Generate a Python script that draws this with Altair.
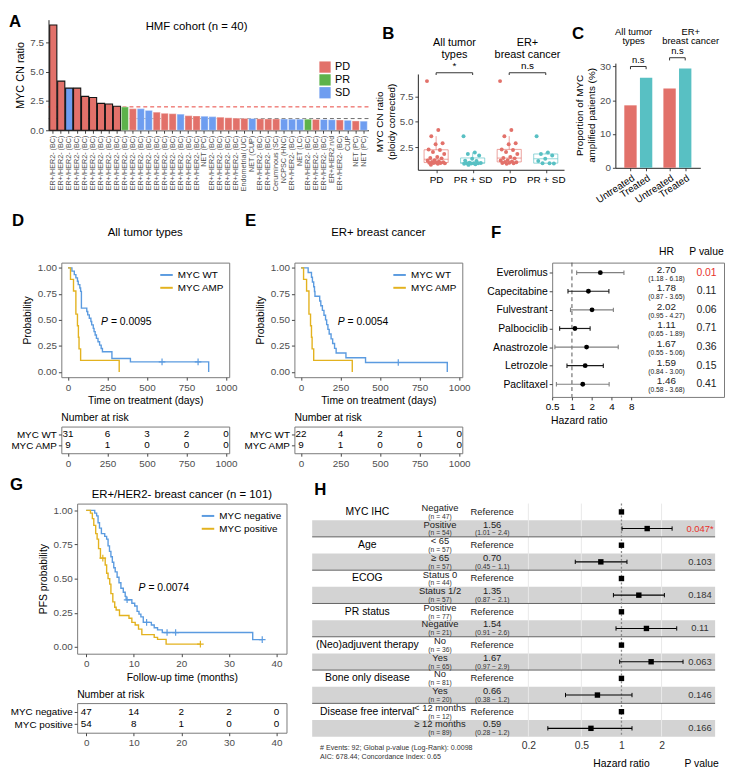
import altair as alt
import pandas as pd

FONT = "Liberation Sans"

# ======================= DATA =======================
A_LABELS = [
    "ER+/HER2- (BC)", "ER+/HER2- (BC)", "ER+/HER2- (BC)", "ER+/HER2- (BC)", "ER+/HER2- (BC)",
    "ER+/HER2- (BC)", "ER+/HER2- (BC)", "ER+/HER2- (BC)", "ER+/HER2- (BC)", "ER+/HER2- (BC)",
    "ER+/HER2- (BC)", "ER+/HER2- (BC)", "ER+/HER2- (BC)", "ER+/HER2- (BC)", "ER+/HER2- (BC)",
    "ER+/HER2- (BC)", "ER+/HER2- (BC)", "ER+/HER2- (BC)", "ER+/HER2- (BC)", "NET (PC)",
    "ER+/HER2- (BC)", "ER+/HER2- (BC)", "ER+/HER2- (BC)", "ER+/HER2- (BC)", "Endometrial (UC)",
    "NET (CUP)", "ER+/HER2- (BC)", "ER+/HER2- (BC)", "Ceruminous (SC)", "NCPSC (HNC)",
    "ER+/HER2- (BC)", "NET (LC)", "ER+/HER2- (BC)", "ER+/HER2- (BC)", "ER+/HER2- (BC)",
    "ER+/HER2 n/d", "ER+/HER2- (BC)", "CUP", "NET (PC)", "NET (PC)",
]
A_CN = [9.0, 4.2, 3.6, 3.6, 2.9, 2.8, 2.3, 2.25, 2.05, 2.0,
        1.85, 1.85, 1.7, 1.55, 1.45, 1.42, 1.38, 1.25, 1.22, 1.2,
        1.17, 1.12, 1.07, 1.04, 1.02, 1.0, 0.98, 0.97, 0.97, 0.96,
        0.95, 0.95, 0.95, 0.93, 0.92, 0.9, 0.88, 0.85, 0.8, 0.78]
A_RESP = ["PD", "PD", "SD", "PD", "PD", "PD", "PD", "PD", "PD", "PR",
          "PD", "SD", "SD", "PD", "PD", "PD", "SD", "PD", "PD", "SD",
          "SD", "PD", "PD", "PD", "PD", "SD", "PD", "PD", "PD", "SD",
          "SD", "SD", "PR", "PD", "SD", "SD", "PD", "SD", "PD", "SD"]
A_AMP = [1, 1, 1, 1, 1, 1, 1, 1, 1, 0,
         0, 0, 0, 0, 0, 0, 0, 0, 0, 0,
         0, 0, 0, 0, 0, 0, 0, 0, 0, 0,
         0, 0, 0, 0, 0, 0, 0, 0, 0, 0]
A_THRESH_AMP = 2.0
A_THRESH_BASE = 1.0

C_TREAT = ["Untreated", "Treated", "Untreated", "Treated"]
C_POS = [1, 2, 3.5, 4.5]
C_PCT = [18.5, 26.7, 23.5, 29.4]

D_WT_T = [0, 25, 40, 50, 60, 65, 75, 80, 85, 119, 125, 135, 145, 150, 160, 165, 172, 180, 190, 200, 210, 218, 278, 395, 890]
D_WT_S = [1.0, 0.968, 0.935, 0.903, 0.871, 0.839, 0.806, 0.774, 0.613, 0.581, 0.548, 0.516, 0.484, 0.452, 0.419,
          0.387, 0.355, 0.323, 0.290, 0.258, 0.226, 0.194, 0.129, 0.097, 0.0]
D_WT_CENS_T = [595, 823]
D_WT_CENS_S = [0.097, 0.097]
AMP_T = [0, 16, 35, 50, 60, 66, 70, 80, 324]
AMP_S = [1.0, 0.889, 0.778, 0.556, 0.444, 0.333, 0.222, 0.111, 0.0]
E_WT_T = [0, 45, 66, 72, 80, 85, 88, 118, 125, 135, 145, 155, 162, 170, 178, 190, 200, 212, 222, 284, 408, 925]
E_WT_S = [1.0, 0.955, 0.909, 0.864, 0.818, 0.773, 0.727, 0.682, 0.636, 0.591, 0.545, 0.5, 0.455, 0.409, 0.364,
          0.318, 0.273, 0.227, 0.182, 0.136, 0.091, 0.0]
E_WT_CENS_T = [615]
E_WT_CENS_S = [0.091]
DAYS_TICKS = [0, 250, 500, 750, 1000]
D_RISK_WT = [31, 6, 3, 2, 0]
D_RISK_AMP = [9, 1, 0, 0, 0]
E_RISK_WT = [22, 4, 2, 1, 0]
E_RISK_AMP = [9, 1, 0, 0, 0]

F_DRUGS = ["Everolimus", "Capecitabine", "Fulvestrant", "Palbociclib", "Anastrozole", "Letrozole", "Paclitaxel"]
F_HR = [2.70, 1.78, 2.02, 1.11, 1.67, 1.59, 1.46]
F_LO = [1.18, 0.87, 0.95, 0.65, 0.55, 0.84, 0.58]
F_HI = [6.18, 3.65, 4.27, 1.89, 5.06, 3.00, 3.68]
F_P = [0.01, 0.11, 0.06, 0.71, 0.36, 0.15, 0.41]

G_NEG_T = [0, 1.8, 2.2, 2.5, 2.8, 3.2, 3.9, 4.3, 4.6, 4.9, 5.2, 5.5, 5.8, 6.1, 6.5, 6.9, 7.3, 7.8, 8.2, 8.4,
           9.6, 10.2, 10.7, 11.1, 11.5, 12.0, 13.7, 14.3, 15.0, 16.0, 35.0, 37.0]
G_NEG_S = [1.0, 0.98, 0.96, 0.91, 0.87, 0.83, 0.81, 0.79, 0.74, 0.70, 0.66, 0.62, 0.58, 0.55, 0.51, 0.47, 0.43,
           0.40, 0.37, 0.345, 0.32, 0.30, 0.26, 0.24, 0.22, 0.18, 0.16, 0.14, 0.125, 0.105, 0.053, 0.053]
G_NEG_CENS_T = [8.6, 12.7, 17.0, 18.8, 37.0]
G_NEG_CENS_S = [0.345, 0.18, 0.105, 0.105, 0.053]
G_POS_T = [0, 0.9, 1.3, 1.6, 2.0, 2.3, 2.6, 3.0, 4.0, 4.3, 4.6, 4.95, 5.2, 5.6, 6.0, 6.3, 7.0, 9.0, 9.6, 10.3,
           11.0, 11.7, 14.3, 15.0, 16.8, 24.0]
G_POS_S = [1.0, 0.98, 0.94, 0.89, 0.83, 0.79, 0.72, 0.65, 0.60, 0.54, 0.50, 0.46, 0.39, 0.33, 0.29, 0.27, 0.23,
           0.21, 0.18, 0.16, 0.13, 0.09, 0.07, 0.055, 0.02, 0.02]
G_POS_CENS_T = [3.5, 24.0]
G_POS_CENS_S = [0.65, 0.02]
MONTH_TICKS = [0, 10, 20, 30, 40]
G_RISK_NEG = [47, 14, 2, 2, 0]
G_RISK_POS = [54, 8, 1, 0, 0]

H_VARS = ["MYC IHC", "Age", "ECOG", "PR status", "(Neo)adjuvent therapy", "Bone only disease", "Disease free interval"]
H_LEVELS = ["Negative", "Positive", "< 65", "≥ 65", "Status 0", "Status 1/2", "Positive", "Negative",
            "No", "Yes", "No", "Yes", "< 12 months", "≥ 12 months"]
H_N = [47, 54, 57, 57, 44, 57, 77, 21, 36, 65, 81, 20, 12, 89]
H_HR = [1.0, 1.56, 1.0, 0.70, 1.0, 1.35, 1.0, 1.54, 1.0, 1.67, 1.0, 0.66, 1.0, 0.59]
H_LO = [None, 1.01, None, 0.45, None, 0.87, None, 0.91, None, 0.97, None, 0.38, None, 0.28]
H_HI = [None, 2.4, None, 1.1, None, 2.1, None, 2.6, None, 2.9, None, 1.2, None, 1.2]
H_P = [None, 0.047, None, 0.103, None, 0.184, None, 0.11, None, 0.063, None, 0.146, None, 0.166]
H_FOOT = ["# Events: 92; Global p-value (Log-Rank): 0.0098", "AIC: 678.44; Concordance Index: 0.65"]

# ======================= STYLE =======================
C_PD, C_PR, C_SD = "#E2716A", "#5DB24B", "#6E9DF0"
C_SAL, C_TEAL = "#E2716A", "#58C0C3"
KM_BLUE, KM_YEL = "#5B9BE0", "#E3B21F"
BOX = alt.ViewBackground(stroke="#7a7a7a", strokeWidth=1)
LBL = "#4d4d4d"


def letter(ch, x, y):
    return alt.Chart(pd.DataFrame({"t": [ch]})).mark_text(
        font=FONT, fontSize=17, fontWeight="bold", align="left", baseline="top", color="black"
    ).encode(text="t:N", x=alt.value(x), y=alt.value(y))


def vtitle(lines, x0, ymid, size=10, step=12):
    return [alt.Chart(pd.DataFrame({"t": [ln]})).mark_text(
        font=FONT, fontSize=size, angle=270, color="black", baseline="middle", align="center"
    ).encode(text="t:N", x=alt.value(x0 + i * step), y=alt.value(ymid)) for i, ln in enumerate(lines)]


def spacer():
    return alt.Chart(pd.DataFrame({"t": [""]})).mark_text().encode(text="t:N").properties(width=1, height=1)


# ======================= PANEL A =======================
WA, HA = 324, 112
dfA = pd.DataFrame({"idx": list(range(len(A_CN))), "cn": A_CN, "resp": A_RESP, "amp": A_AMP})
lblA = "[" + ",".join("'" + s + "'" for s in A_LABELS) + "][datum.value]"
ax_xA = alt.Axis(labelExpr=lblA, labelAngle=-90, labelFontSize=7.3, labelColor=LBL, tickSize=3,
                 labelPadding=2, labelOverlap=False, domainColor="#222")
ax_yA = alt.Axis(values=[0, 2.5, 5, 7.5], format=".1f", labelFontSize=10, titleFontSize=11, tickSize=3,
                 titlePadding=4, domainColor="#222", labelColor=LBL)
scx_A = alt.Scale(paddingInner=0.1, paddingOuter=0.15)
scy_A = alt.Scale(domain=[0, 9.45], nice=False, zero=False)
XA = lambda f: alt.X(f, title=None, scale=scx_A, axis=ax_xA)
YA = lambda f: alt.Y(f, title="MYC CN ratio", scale=scy_A, axis=ax_yA)

thr_hi = alt.Chart(pd.DataFrame({"cn": [A_THRESH_AMP]})).mark_rule(
    strokeDash=[4, 3], color="#E8433B", strokeWidth=1).encode(y=YA("cn:Q"))
thr_lo = alt.Chart(pd.DataFrame({"cn": [A_THRESH_BASE]})).mark_rule(
    strokeDash=[4, 3], color="#6b6b6b", strokeWidth=1).encode(y=YA("cn:Q"))
barsA = alt.Chart(dfA).transform_calculate(
    sc="datum.amp == 1 ? '#151515' : '#ffffff'",
    so="datum.amp == 1 ? 1 : 0.35",
).mark_bar(strokeWidth=1.1).encode(
    x=XA("idx:O"), y=YA("cn:Q"),
    color=alt.Color("resp:N", scale=alt.Scale(domain=["PD", "PR", "SD"], range=[C_PD, C_PR, C_SD]),
                    legend=alt.Legend(title=None, orient="none", legendX=WA - 50, legendY=42,
                                      symbolType="square", symbolSize=130, labelFontSize=11,
                                      rowPadding=1, symbolStrokeWidth=0, labelColor="black")),
    stroke=alt.Stroke("sc:N", scale=None),
    strokeOpacity=alt.StrokeOpacity("so:Q", scale=None),
)
titleA = alt.Chart(pd.DataFrame({"idx": [18], "cn": [8.85], "t": ["HMF cohort (n = 40)"]})).mark_text(
    font=FONT, fontSize=11.5, color="black").encode(x=XA("idx:O"), y=YA("cn:Q"), text="t:N")
panelA = alt.layer(thr_hi, thr_lo, barsA, titleA, letter("A", -40, -6)).properties(width=WA, height=HA)

# ======================= PANEL B =======================
WB, HB = 148, 97
B_ORDER = [("All tumor types", "PD"), ("All tumor types", "PR + SD"),
           ("ER+ breast cancer", "PD"), ("ER+ breast cancer", "PR + SD")]
recs, counters = [], {}
for lab, v, r in zip(A_LABELS, A_CN, A_RESP):
    cls = "PD" if r == "PD" else "PR + SD"
    groups = ["All tumor types"] + (["ER+ breast cancer"] if lab.startswith("ER+/HER2-") else [])
    for g in groups:
        k = counters.get((g, cls), 0)
        counters[(g, cls)] = k + 1
        pos = B_ORDER.index((g, cls)) + 1
        jit = (((k * 0.618034) % 1.0) - 0.5) * 0.5
        recs.append({"grp": g, "cls": cls, "v": v, "pos": pos, "px": pos + jit,
                     "col": C_SAL if cls == "PD" else C_TEAL})
dfB = pd.DataFrame(recs)
scx_B = alt.Scale(domain=[0.5, 4.5], nice=False, zero=False)
scy_B = alt.Scale(domain=[0.3, 9.7], nice=False, zero=False)
ax_xB = alt.Axis(values=[1, 2, 3, 4], labelExpr="['','PD','PR + SD','PD','PR + SD'][datum.value]",
                 labelFontSize=10, tickSize=3, labelColor="black", domainColor="#222", labelFlush=False)
ax_yB = alt.Axis(values=[2.5, 5, 7.5], format=".1f", labelFontSize=10, tickSize=3,
                 domainColor="#222", labelColor=LBL)
XB = lambda f: alt.X(f, title=None, scale=scx_B, axis=ax_xB)
YB = lambda f: alt.Y(f, title=None, scale=scy_B, axis=ax_yB)

boxB = alt.Chart(dfB).transform_aggregate(
    q1="q1(v)", med="median(v)", q3="q3(v)", groupby=["pos", "col"]
).transform_calculate(x1="datum.pos - 0.33", x2="datum.pos + 0.33")
rectB = boxB.mark_rect(filled=False, strokeWidth=1, strokeOpacity=0.65).encode(
    x=XB("x1:Q"), x2="x2:Q", y=YB("q1:Q"), y2="q3:Q", stroke=alt.Stroke("col:N", scale=None))
medB = boxB.mark_rule(strokeWidth=1, strokeOpacity=0.65).encode(
    x=XB("x1:Q"), x2="x2:Q", y=YB("med:Q"), stroke=alt.Stroke("col:N", scale=None))
whB = alt.Chart(dfB).transform_joinaggregate(
    q1="q1(v)", q3="q3(v)", groupby=["pos"]
).transform_calculate(
    lo="datum.q1 - 1.5 * (datum.q3 - datum.q1)", hi="datum.q3 + 1.5 * (datum.q3 - datum.q1)"
).transform_filter("datum.v >= datum.lo && datum.v <= datum.hi").transform_aggregate(
    wlo="min(v)", whi="max(v)", q1="min(q1)", q3="min(q3)", groupby=["pos", "col"])
upB = whB.mark_rule(strokeWidth=1, strokeOpacity=0.65).encode(
    x=XB("pos:Q"), y=YB("q3:Q"), y2="whi:Q", stroke=alt.Stroke("col:N", scale=None))
loB = whB.mark_rule(strokeWidth=1, strokeOpacity=0.65).encode(
    x=XB("pos:Q"), y=YB("wlo:Q"), y2="q1:Q", stroke=alt.Stroke("col:N", scale=None))
ptsB = alt.Chart(dfB).mark_circle(size=16, opacity=1).encode(
    x=XB("px:Q"), y=YB("v:Q"), color=alt.Color("col:N", scale=None))
brB = pd.DataFrame({"x1": [1, 3], "x2": [2, 4], "y": [9.82, 9.82], "lbl": ["*", "n.s"]})
brB_line = alt.Chart(brB).mark_rule(color="#333", strokeWidth=1).encode(x=XB("x1:Q"), x2="x2:Q", y=YB("y:Q"))
brB_legs = alt.Chart(brB).transform_fold(["x1", "x2"], as_=["end", "xe"]).transform_calculate(
    y2="datum.y - 0.22").mark_rule(color="#333", strokeWidth=1).encode(x=XB("xe:Q"), y=YB("y:Q"), y2="y2:Q")
brB_txt = alt.Chart(brB).transform_calculate(xm="(datum.x1 + datum.x2) / 2").mark_text(
    font=FONT, fontSize=10, baseline="bottom", dy=-2, color="black").encode(x=XB("xm:Q"), y=YB("y:Q"), text="lbl:N")
hdB = pd.DataFrame({"xm": [1.5, 1.5, 3.5, 3.5], "y": [12.75, 11.55, 12.75, 11.55],
                    "t": ["All tumor", "types", "ER+", "breast cancer"]})
hdB_txt = alt.Chart(hdB).mark_text(font=FONT, fontSize=11, color="black").encode(
    x=XB("xm:Q"), y=YB("y:Q"), text="t:N")
panelB = alt.layer(rectB, medB, upB, loB, ptsB, brB_line, brB_legs, brB_txt, hdB_txt,
                   *vtitle(["MYC CN ratio", "(ploidy corrected)"], -38, HB / 2),
                   letter("B", -36, -48)).properties(width=WB, height=HB)

# ======================= PANEL C =======================
WC, HC = 86, 106
dfC = pd.DataFrame({"pos": C_POS, "pct": C_PCT, "treat": C_TREAT})
dfC["col"] = [C_SAL if t == "Untreated" else C_TEAL for t in C_TREAT]
lblC = " : ".join("datum.value == %s ? '%s'" % (p, t) for p, t in zip(C_POS, C_TREAT)) + " : ''"
scx_C = alt.Scale(domain=[0.35, 5.15], nice=False, zero=False)
scy_C = alt.Scale(domain=[0, 31], nice=False, zero=False)
ax_xC = alt.Axis(values=C_POS, labelExpr=lblC, labelAngle=-33, labelFontSize=10, tickSize=3,
                 labelColor="black", domainColor="#222", labelFlush=False, labelOverlap=False)
ax_yC = alt.Axis(values=[0, 10, 20, 30], format="d", labelFontSize=10, tickSize=3,
                 domainColor="#222", labelColor=LBL)
XC = lambda f: alt.X(f, title=None, scale=scx_C, axis=ax_xC)
YC = lambda f: alt.Y(f, title=None, scale=scy_C, axis=ax_yC)
barsC = alt.Chart(dfC).mark_bar(size=12.5).encode(x=XC("pos:Q"), y=YC("pct:Q"), color=alt.Color("col:N", scale=None))
brC = pd.DataFrame({"x1": [1, 3.5], "x2": [2, 4.5], "y": [30.0, 32.6], "lbl": ["n.s", "n.s"]})
brC_line = alt.Chart(brC).mark_rule(color="#333", strokeWidth=1).encode(x=XC("x1:Q"), x2="x2:Q", y=YC("y:Q"))
brC_legs = alt.Chart(brC).transform_fold(["x1", "x2"], as_=["end", "xe"]).transform_calculate(
    y2="datum.y - 0.8").mark_rule(color="#333", strokeWidth=1).encode(x=XC("xe:Q"), y=YC("y:Q"), y2="y2:Q")
brC_txt = alt.Chart(brC).transform_calculate(xm="(datum.x1 + datum.x2) / 2").mark_text(
    font=FONT, fontSize=9.5, baseline="bottom", dy=-2, color="black").encode(x=XC("xm:Q"), y=YC("y:Q"), text="lbl:N")
hdC = pd.DataFrame({"xm": [1.2, 1.2, 4.85, 4.85], "y": [40.3, 37.5, 40.3, 37.5],
                    "t": ["All tumor", "types", "ER+", "breast cancer"]})
hdC_txt = alt.Chart(hdC).mark_text(font=FONT, fontSize=9.5, color="black").encode(
    x=XC("xm:Q"), y=YC("y:Q"), text="t:N")
panelC = alt.layer(barsC, brC_line, brC_legs, brC_txt, hdC_txt,
                   *vtitle(["Proportion of MYC", "amplified patients (%)"], -36, HC / 2),
                   letter("C", -44, -37)).properties(width=WC, height=HC)


# ======================= KM helpers =======================
def km_chart(title, title_y, series, censors, pv, pv_at, xdom, xvals, xtitle, ytitle, W, H, let, let_xy):
    names = [s["name"] for s in series]
    cols = [s["color"] for s in series]
    df = pd.DataFrame([{"t": t, "s": v, "grp": s["name"]} for s in series for t, v in zip(s["t"], s["s"])])
    xs = alt.Scale(domain=xdom, nice=False, zero=False)
    ys = alt.Scale(domain=[-0.05, 1.05], nice=False, zero=False)
    xax = alt.Axis(values=xvals, format="d", domain=False, tickSize=3, labelFontSize=10, titleFontSize=10.5,
                   labelFlush=False, titlePadding=4, labelColor=LBL)
    yax = alt.Axis(values=[0, 0.25, 0.5, 0.75, 1], format=".2f", domain=False, tickSize=3, labelFontSize=10,
                   titleFontSize=10.5, titlePadding=5, labelColor=LBL)
    X = lambda f: alt.X(f, title=xtitle, scale=xs, axis=xax)
    Y = lambda f: alt.Y(f, title=ytitle, scale=ys, axis=yax)
    layers = [alt.Chart(df).mark_line(interpolate="step-after", strokeWidth=1.4).encode(
        x=X("t:Q"), y=Y("s:Q"),
        color=alt.Color("grp:N", scale=alt.Scale(domain=names, range=cols), sort=names,
                        legend=alt.Legend(title=None, orient="top-right", offset=5, symbolType="stroke",
                                          symbolStrokeWidth=2, symbolSize=160, labelFontSize=10,
                                          rowPadding=0, padding=0, labelColor="black")))]
    for c in censors:
        dfc = pd.DataFrame({"t": c["t"], "s": c["s"]})
        layers.append(alt.Chart(dfc).mark_point(shape="M-1,0H1M0,-1V1", size=45, strokeWidth=1.2,
                                                filled=False, color=c["color"], opacity=1).encode(
            x=X("t:Q"), y=Y("s:Q")))
    dfp = pd.DataFrame({"t": [pv_at[0]], "s": [pv_at[1]]})
    layers.append(alt.Chart(dfp).mark_text(text="P", fontStyle="italic", fontSize=10.5, align="left",
                                           font=FONT, color="black").encode(x=X("t:Q"), y=Y("s:Q")))
    layers.append(alt.Chart(dfp).mark_text(text="= " + pv, fontSize=10.5, align="left", dx=10,
                                           font=FONT, color="black").encode(x=X("t:Q"), y=Y("s:Q")))
    dft = pd.DataFrame({"t": [(xdom[0] + xdom[1]) / 2], "s": [title_y], "txt": [title]})
    layers.append(alt.Chart(dft).mark_text(fontSize=11.5, font=FONT, color="black").encode(
        x=X("t:Q"), y=Y("s:Q"), text="txt:N"))
    layers.append(letter(let, *let_xy))
    return alt.layer(*layers).properties(width=W, height=H, view=BOX)


def risk_chart(names, xvals, counts, xdom, W, H):
    df = pd.DataFrame([{"name": n, "x": x, "n": c} for n, cs in zip(names, counts) for x, c in zip(xvals, cs)])
    return alt.Chart(df).mark_text(font=FONT, fontSize=10, color="black").encode(
        x=alt.X("x:Q", title=None, scale=alt.Scale(domain=xdom, nice=False, zero=False),
                axis=alt.Axis(values=xvals, format="d", domain=False, tickSize=3, labelFontSize=10,
                              labelFlush=False, labelColor=LBL)),
        y=alt.Y("name:N", title=None, sort=names, scale=alt.Scale(padding=0.7),
                axis=alt.Axis(domain=False, tickSize=3, labelFontSize=10, labelColor="black", labelPadding=2)),
        text="n:Q",
    ).properties(width=W, height=H, view=BOX,
                 title=alt.TitleParams("Number at risk", anchor="start", frame="group", fontSize=10.5,
                                       fontWeight="normal", offset=3, font=FONT, color="black"))


# ======================= PANELS D, E =======================
WD, HD = 170, 116
DDOM = [-42, 1020]
kmD = km_chart("All tumor types", 1.33,
               [{"name": "MYC WT", "t": D_WT_T, "s": D_WT_S, "color": KM_BLUE},
                {"name": "MYC AMP", "t": AMP_T, "s": AMP_S, "color": KM_YEL}],
               [{"t": D_WT_CENS_T, "s": D_WT_CENS_S, "color": KM_BLUE}],
               "0.0095", (209, 0.48), DDOM, DAYS_TICKS, "Time on treatment (days)", "Probability",
               WD, HD, "D", (-50, -50))
riskD = risk_chart(["MYC WT", "MYC AMP"], DAYS_TICKS, [D_RISK_WT, D_RISK_AMP], DDOM, WD, 27)
kmE = km_chart("ER+ breast cancer", 1.33,
               [{"name": "MYC WT", "t": E_WT_T, "s": E_WT_S, "color": KM_BLUE},
                {"name": "MYC AMP", "t": AMP_T, "s": AMP_S, "color": KM_YEL}],
               [{"t": E_WT_CENS_T, "s": E_WT_CENS_S, "color": KM_BLUE}],
               "0.0054", (232, 0.48), DDOM, DAYS_TICKS, "Time on treatment (days)", "Probability",
               WD, HD, "E", (-50, -50))
riskE = risk_chart(["MYC WT", "MYC AMP"], DAYS_TICKS, [E_RISK_WT, E_RISK_AMP], DDOM, WD, 27)

# ======================= PANEL F =======================
WF, HF = 174, 136
F_COLX = {"hr": 27.4, "p": 111.6}
dfF = pd.DataFrame({"row": list(range(1, len(F_DRUGS) + 1)), "drug": F_DRUGS, "hr": F_HR,
                    "lo": F_LO, "hi": F_HI, "p": F_P})
fx_scale = alt.Scale(type="log", base=2, domain=[0.5, 206], nice=False)
fy_scale = alt.Scale(domain=[0.46, 7.68], reverse=True, nice=False, zero=False)
drug_expr = "[''," + ",".join("'%s'" % d for d in F_DRUGS) + "][datum.value]"
FAX = alt.Axis(values=[0.5, 1, 2, 4, 8], format="~g", domain=False, tickSize=3, labelFontSize=10,
               titleFontSize=10.5, titleX=27, titleAlign="center", labelFlush=False, labelColor="black",
               titlePadding=4)
FAY = alt.Axis(values=list(range(1, len(F_DRUGS) + 1)), labelExpr=drug_expr, domain=False, tickSize=3,
               labelFontSize=10.5, labelColor="black", labelPadding=2)
FX = lambda f: alt.X(f, title="Hazard ratio", scale=fx_scale, axis=FAX)
FY = lambda f: alt.Y(f, title=None, scale=fy_scale, axis=FAY)
baseF = alt.Chart(dfF).transform_calculate(
    lc="datum.row % 2 == 1 ? '#808080' : '#1a1a1a'",
    pc="datum.p < 0.05 ? '#E8312B' : '#222222'",
    ci="'(' + format(datum.lo, '.2f') + ' - ' + format(datum.hi, '.2f') + ')'",
    xhr=str(F_COLX["hr"]), xp=str(F_COLX["p"]),
)
vlineF = alt.Chart(pd.DataFrame({"hr": [1.0]})).mark_rule(strokeDash=[4, 3], color="#555", strokeWidth=1).encode(x=FX("hr:Q"))
ciF = baseF.mark_rule(strokeWidth=1.2).encode(x=FX("lo:Q"), x2="hi:Q", y=FY("row:Q"), stroke=alt.Stroke("lc:N", scale=None))
capsF = baseF.transform_fold(["lo", "hi"], as_=["end", "xv"]).transform_calculate(
    ya="datum.row - 0.12", yb="datum.row + 0.12").mark_rule(strokeWidth=1.1).encode(
    x=FX("xv:Q"), y=FY("ya:Q"), y2="yb:Q", stroke=alt.Stroke("lc:N", scale=None))
ptsF = baseF.mark_circle(size=24, color="black", opacity=1).encode(x=FX("hr:Q"), y=FY("row:Q"))
hrF = baseF.mark_text(font=FONT, fontSize=10, dy=-3, color="#222").encode(
    x=FX("xhr:Q"), y=FY("row:Q"), text=alt.Text("hr:Q", format=".2f"))
ciTF = baseF.mark_text(font=FONT, fontSize=6.8, dy=6, color="#222").encode(x=FX("xhr:Q"), y=FY("row:Q"), text="ci:N")
pF = baseF.mark_text(font=FONT, fontSize=10.5).encode(
    x=FX("xp:Q"), y=FY("row:Q"), text=alt.Text("p:Q", format=".2f"), color=alt.Color("pc:N", scale=None))
hdF = alt.Chart(pd.DataFrame({"hr": [F_COLX["hr"], F_COLX["p"]], "row": [-0.12, -0.12], "t": ["HR", "P value"]})).mark_text(
    font=FONT, fontSize=10.5, color="black").encode(x=FX("hr:Q"), y=FY("row:Q"), text="t:N")
panelF = alt.layer(vlineF, ciF, capsF, ptsF, hrF, ciTF, pF, hdF,
                   letter("F", -62, -38)).properties(width=WF, height=HF, view=BOX)

# ======================= PANEL G =======================
WG, HG = 212, 152
GDOM = [-1.9, 42.1]
kmG = km_chart("ER+/HER2- breast cancer (n = 101)", 1.115,
               [{"name": "MYC negative", "t": G_NEG_T, "s": G_NEG_S, "color": KM_BLUE},
                {"name": "MYC positive", "t": G_POS_T, "s": G_POS_S, "color": KM_YEL}],
               [{"t": G_NEG_CENS_T, "s": G_NEG_CENS_S, "color": KM_BLUE},
                {"t": G_POS_CENS_T, "s": G_POS_CENS_S, "color": KM_YEL}],
               "0.0074", (11.0, 0.43), GDOM, MONTH_TICKS, "Follow-up time (months)", "PFS probability",
               WG, HG, "G", (-68, -27))
riskG = risk_chart(["MYC negative", "MYC positive"], MONTH_TICKS, [G_RISK_NEG, G_RISK_POS], GDOM, WG, 30)

# ======================= PANEL H =======================
WH, HH = 408, 236
H_COLX = {"var": 0.01235, "sub": 0.0434, "hr": 0.107, "p": 3.89, "foot": 0.00545, "plab": 4.0, "hrlab": 1.0}
recs = []
for i in range(len(H_LEVELS)):
    ref = H_LO[i] is None
    recs.append({
        "row": i + 1, "lvl": H_LEVELS[i], "ntxt": "(n = %d)" % H_N[i], "hr": H_HR[i],
        "lo": H_LO[i], "hi": H_HI[i], "ref": 1 if ref else 0,
        "hrtxt": "Reference" if ref else "%.2f" % H_HR[i],
        "citxt": "" if ref else "(%g − %g)" % (H_LO[i], H_HI[i]),
        "ptxt": "" if ref else ("%g" % H_P[i]) + ("*" if H_P[i] < 0.05 else ""),
        "pc": "#E8312B" if (not ref and H_P[i] < 0.05) else "#333333",
    })
dfH = pd.DataFrame(recs)
dfHvar = pd.DataFrame({"row": [2 * k + 1 for k in range(len(H_VARS))], "var": H_VARS})
hx_scale = alt.Scale(type="log", domain=[0.00476, 5.05], nice=False)
hy_scale = alt.Scale(domain=[0.5, 14.5], reverse=True, nice=False, zero=False)
HAX = alt.Axis(values=[0.2, 0.5, 1, 2], format="~g", domain=False, ticks=False, labelFontSize=10.5,
               labelPadding=4, labelFlush=False, labelColor="#333")
HX = lambda f: alt.X(f, title=None, scale=hx_scale, axis=HAX)
HY = lambda f: alt.Y(f, title=None, scale=hy_scale, axis=None)

stripesH = alt.Chart(dfH).transform_filter("datum.row % 2 == 0").transform_calculate(
    ya="datum.row - 0.5", yb="datum.row + 0.5").mark_rect(color="#D3D3D3").encode(y=HY("ya:Q"), y2="yb:Q")
gridH = alt.Chart(pd.DataFrame({"g": [0.2, 0.5, 2]})).mark_rule(color="#E9E9E9", strokeWidth=1).encode(x=HX("g:Q"))
sepH = alt.Chart(pd.DataFrame({"row": [2 * k + 2.5 for k in range(len(H_VARS) - 1)]})).mark_rule(
    color="#555", strokeWidth=0.9).encode(y=HY("row:Q"))
oneH = alt.Chart(pd.DataFrame({"g": [1.0]})).mark_rule(color="#8a8a8a", strokeDash=[2, 2], strokeWidth=1.3).encode(x=HX("g:Q"))
ciH = alt.Chart(dfH).transform_filter("datum.ref == 0").mark_rule(color="black", strokeWidth=1.1).encode(
    x=HX("lo:Q"), x2="hi:Q", y=HY("row:Q"))
capsH = alt.Chart(dfH).transform_filter("datum.ref == 0").transform_fold(["lo", "hi"], as_=["end", "xv"]).transform_calculate(
    ya="datum.row - 0.13", yb="datum.row + 0.13").mark_rule(color="black", strokeWidth=1).encode(
    x=HX("xv:Q"), y=HY("ya:Q"), y2="yb:Q")
sqH = alt.Chart(dfH).mark_square(size=30, color="black", opacity=1).encode(x=HX("hr:Q"), y=HY("row:Q"))
baseHT = alt.Chart(dfH).transform_calculate(
    xs=str(H_COLX["sub"]), xh=str(H_COLX["hr"]), xp=str(H_COLX["p"]))
varH = alt.Chart(dfHvar).transform_calculate(xv=str(H_COLX["var"])).mark_text(
    font=FONT, fontSize=10.5, color="black").encode(x=HX("xv:Q"), y=HY("row:Q"), text="var:N")
lvlH = baseHT.mark_text(font=FONT, fontSize=9.5, dy=-4, color="#222").encode(x=HX("xs:Q"), y=HY("row:Q"), text="lvl:N")
nH = baseHT.mark_text(font=FONT, fontSize=6.8, dy=5, color="#333").encode(x=HX("xs:Q"), y=HY("row:Q"), text="ntxt:N")
refH = baseHT.transform_filter("datum.ref == 1").mark_text(font=FONT, fontSize=9.5, color="#222").encode(
    x=HX("xh:Q"), y=HY("row:Q"), text="hrtxt:N")
hrH = baseHT.transform_filter("datum.ref == 0").mark_text(font=FONT, fontSize=9.5, dy=-4, color="#222").encode(
    x=HX("xh:Q"), y=HY("row:Q"), text="hrtxt:N")
ciTH = baseHT.transform_filter("datum.ref == 0").mark_text(font=FONT, fontSize=6.8, dy=5, color="#333").encode(
    x=HX("xh:Q"), y=HY("row:Q"), text="citxt:N")
pH = baseHT.transform_filter("datum.ref == 0").mark_text(font=FONT, fontSize=9.5).encode(
    x=HX("xp:Q"), y=HY("row:Q"), text="ptxt:N", color=alt.Color("pc:N", scale=None))
footH = alt.Chart(pd.DataFrame({"t": H_FOOT, "row": [15.2, 15.7]})).transform_calculate(
    xf=str(H_COLX["foot"])).mark_text(font=FONT, fontSize=7.2, align="left", color="#333").encode(
    x=HX("xf:Q"), y=HY("row:Q"), text="t:N")
labsH = alt.Chart(pd.DataFrame({"t": ["Hazard ratio", "P value"], "g": [H_COLX["hrlab"], H_COLX["plab"]],
                                "row": [16.15, 16.15]})).mark_text(font=FONT, fontSize=10.5, color="black").encode(
    x=HX("g:Q"), y=HY("row:Q"), text="t:N")
panelH = alt.layer(stripesH, gridH, sepH, oneH, ciH, capsH, sqH, varH, lvlH, nH, refH, hrH, ciTH, pH,
                   footH, labsH, letter("H", 2, -22)).properties(width=WH, height=HH)


# ======================= ASSEMBLY =======================
def ind(c):
    return c.resolve_scale(color="independent").resolve_legend(color="independent")


def lead(inner):
    """Prefix a row with a 1px spacer so each row keeps its own left margin."""
    return ind(alt.concat(spacer(), inner, columns=2, align="none", spacing=0))


colB = alt.vconcat(spacer(), panelB, spacing=0)
colC = alt.vconcat(spacer(), panelC, spacing=0)
colD = ind(alt.vconcat(kmD, riskD, spacing=6))
colE = ind(alt.vconcat(kmE, riskE, spacing=6))
colG = ind(alt.vconcat(kmG, riskG, spacing=6))
row1 = lead(ind(alt.concat(panelA, colB, colC, columns=3, align="none", spacing=6)))
row2 = lead(ind(alt.concat(ind(alt.concat(colD, colE, columns=2, align="none", spacing=4)), panelF,
                           columns=2, align="none", spacing=15)))
row3 = lead(ind(alt.concat(colG, panelH, columns=2, align="none", spacing=24)))
chart = ind(alt.concat(row1, row2, row3, columns=1, align="none", spacing={"row": 6, "column": 0})).properties(
    padding=0
).configure(font=FONT).configure_view(stroke=None).configure_axis(
    labelFont=FONT, titleFont=FONT, grid=False, titleFontWeight="normal", titleColor="black",
    tickColor="#444", domainColor="#333"
).configure_legend(labelFont=FONT).configure_title(font=FONT, fontWeight="normal", color="black")

chart.save("out.html", embed_options={"renderer": "svg", "actions": False})
